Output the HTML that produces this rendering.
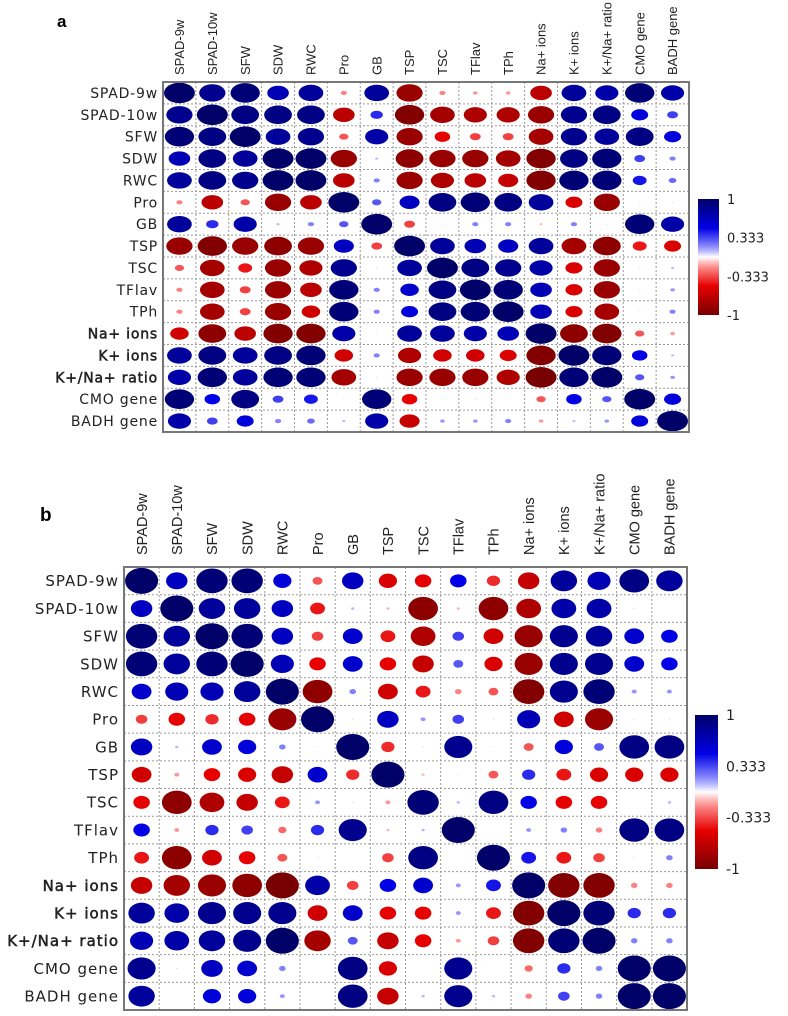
<!DOCTYPE html>
<html><head><meta charset="utf-8"><style>
html,body{margin:0;padding:0;background:#fff;}
svg{display:block;}
</style></head><body>
<svg id="chart" width="788" height="1016" viewBox="0 0 788 1016" xmlns="http://www.w3.org/2000/svg">
<text x="57" y="27" font-family="Liberation Sans, sans-serif" font-weight="bold" font-size="17">a</text>
<text x="40" y="521" font-family="Liberation Sans, sans-serif" font-weight="bold" font-size="19">b</text>
</svg>
<script>
const variables = ["SPAD-9w","SPAD-10w","SFW","SDW","RWC","Pro","GB","TSP","TSC","TFlav","TPh","Na+ ions","K+ ions","K+/Na+ ratio","CMO gene","BADH gene"];
const colorbarTicks = [1, 0.333, -0.333, -1];
const colorbarTickLabels = ["1","0.333","-0.333","-1"];
const matrixA = [
[1,.85,.95,.7,.8,-.2,.8,-.85,-.2,-.15,-.15,-.7,.8,.75,.95,.75],
[.85,1,.9,.9,.9,-.7,.4,-.95,-.8,-.75,-.75,-.85,.85,.9,.55,.35],
[.95,.9,1,.8,.85,-.3,.75,-.85,-.5,-.35,-.35,-.8,.85,.8,.9,.55],
[.7,.9,.8,1,1,-.85,.1,-.9,-.85,-.85,-.8,-.95,.9,.95,.35,.2],
[.8,.9,.85,1,1,-.7,.2,-.85,-.75,-.7,-.65,-.95,.95,.95,.45,.25],
[-.2,-.7,-.3,-.85,-.7,1,.3,.65,.9,.95,.9,.8,-.55,-.85,.05,.05],
[.8,.4,.75,.1,.2,.3,1,-.35,.05,.2,.2,-.1,.2,.05,.95,.75],
[-.85,-.95,-.85,-.9,-.85,.65,-.35,1,.8,.7,.65,.8,-.8,-.9,-.45,-.55],
[-.3,-.8,-.45,-.85,-.75,.85,.05,.8,1,.9,.85,.75,-.55,-.85,.05,.1],
[-.2,-.8,-.35,-.85,-.7,.95,.2,.6,.9,1,.95,.7,-.55,-.85,.05,.15],
[-.2,-.8,-.35,-.85,-.6,.95,.2,.55,.9,.95,1,.7,-.55,-.8,.05,.2],
[-.6,-.9,-.7,-.95,-.95,.75,-.05,.8,.8,.75,.7,1,-.9,-.95,-.3,-.15],
[.8,.9,.8,.9,.95,-.6,.2,-.75,-.6,-.6,-.55,-.95,1,.95,.5,.1],
[.75,.95,.8,.95,.95,-.8,.05,-.85,-.85,-.85,-.75,-1,.95,1,.3,.15],
[.95,.5,.9,.35,.45,.05,.95,-.5,.05,.05,0,-.3,.5,.3,1,.55],
[.75,.35,.55,.2,.25,.1,.75,-.65,.15,.15,.2,-.15,.1,.15,.55,1]
];
const matrixB = [
[1,.65,.95,.95,.55,-.3,.65,-.55,-.5,.5,-.4,-.65,.8,.7,.9,.8],
[.65,1,.8,.8,.65,-.45,.1,-.1,-.9,-.1,-.9,-.75,.75,.75,.05,0],
[.95,.8,1,.95,.65,-.35,.6,-.45,-.75,.35,-.6,-.85,.85,.8,.6,.5],
[.95,.8,.95,1,.7,-.5,.6,-.5,-.65,.3,-.55,-.85,.85,.85,.6,.5],
[.6,.7,.7,.8,1,-.9,.2,-.6,-.45,-.2,-.3,-.95,.85,.95,.15,.15],
[-.35,-.5,-.4,-.5,-.85,1,.05,.65,.15,.35,.05,.7,-.6,-.85,.05,.05],
[.65,.1,.6,.55,.2,.05,1,-.4,.05,.85,.05,-.3,.55,.3,.9,.9],
[-.6,-.15,-.5,-.55,-.65,.6,-.4,1,-.1,-.05,-.3,.4,-.45,-.55,-.55,-.55],
[-.5,-.9,-.75,-.65,-.45,.15,.05,-.15,.95,.1,.9,.5,-.5,-.5,0,.1],
[.5,-.15,.4,.35,-.25,.4,.85,-.1,.1,1,0,.15,.2,-.2,.9,.9],
[-.45,-.9,-.6,-.5,-.3,.05,0,-.35,.9,0,1,.45,-.45,-.35,.05,.2],
[-.65,-.8,-.85,-.9,-1,.75,-.35,.5,.6,.15,.45,1,-.95,-.95,-.2,-.2],
[.8,.75,.85,.85,.85,-.6,.6,-.5,-.5,.15,-.45,-.95,1,.95,.4,.4],
[.7,.75,.8,.85,1,-.8,.3,-.65,-.5,-.15,-.35,-.95,.95,1,.2,.2],
[.85,.05,.65,.6,.2,0,.9,-.55,0,.85,0,-.25,.4,.2,1,1],
[.8,0,.55,.55,.15,0,.9,-.65,.1,.85,.1,-.2,.35,.2,1,1]
];

const NS = "http://www.w3.org/2000/svg";
const svg = document.getElementById('chart');
function mk(tag, attrs, parent){
  const e = document.createElementNS(NS, tag);
  for (const k in attrs) e.setAttribute(k, attrs[k]);
  (parent||svg).appendChild(e);
  return e;
}
function lerp(a,b,t){return Math.round(a+(b-a)*t);}
const stops = [[-1,[120,0,0]],[-0.5,[230,0,0]],[-0.15,[255,150,150]],[0,[255,255,255]],[0.15,[150,150,255]],[0.5,[0,0,230]],[1,[0,0,105]]];
function color(v){
  v=Math.max(-1,Math.min(1,v));
  for(let i=0;i<stops.length-1;i++){
    const [a,ca]=stops[i],[b,cb]=stops[i+1];
    if(v>=a&&v<=b){const t=(v-a)/(b-a);return `rgb(${lerp(ca[0],cb[0],t)},${lerp(ca[1],cb[1],t)},${lerp(ca[2],cb[2],t)})`;}
  }
  return '#fff';
}

function panel(cfg, data, key){
  const n = variables.length;
  const cw = (cfg.x1-cfg.x0)/n, ch = (cfg.y1-cfg.y0)/n;
  const xC = j => cfg.x0 + (j+0.5)*cw;
  const yC = i => cfg.y0 + (i+0.5)*ch;
  const g = mk('g',{});
  
  
  for(let k=1;k<n;k++){
    const lv = mk('line',{x1:cfg.x0+k*cw,x2:cfg.x0+k*cw,y1:cfg.y0,y2:cfg.y1,stroke:'#999','stroke-width':1,'stroke-dasharray':'2,2'},g);
    
    
    const lh = mk('line',{x1:cfg.x0,x2:cfg.x1,y1:cfg.y0+k*ch,y2:cfg.y0+k*ch,stroke:'#999','stroke-width':1,'stroke-dasharray':'2,2'},g);
    
    
  }
  for(let i=0;i<n;i++){
    for(let j=0;j<n;j++){
      const v = data[i][j];
      const a = Math.abs(v);
      if(a<0.01) continue;
      const e = mk('ellipse',{cx:xC(j),cy:yC(i),rx:a*cw*0.47,ry:a*ch*0.47,fill:color(v)},g);
      
      
    }
  }
  const b = mk('rect',{x:cfg.x0,y:cfg.y0,width:cfg.x1-cfg.x0,height:cfg.y1-cfg.y0,fill:'none',stroke:'#777','stroke-width':2},g);
  
  
  for(let i=0;i<n;i++){
    const bold = i>=11 && i<=13;
    const t = mk('text',{x:cfg.x0-5,y:yC(i)+cfg.rowFs*0.36,'text-anchor':'end','font-family':'DejaVu Sans, sans-serif','font-size':cfg.rowFs,'letter-spacing':cfg.rowLs,fill:'#222',stroke:bold?'#222':'none','stroke-width':bold?0.5:0});
    t.textContent = variables[i];
    
    
    const c = mk('text',{transform:`translate(${xC(i)+cfg.colFs*0.36},${cfg.colBase}) rotate(-90)`,'font-family':'Liberation Sans, sans-serif','font-size':cfg.colFs,fill:'#222'});
    c.textContent = variables[i];
    
    
  }
  const gid = 'grad-'+key;
  const defs = mk('defs',{});
  const lg = mk('linearGradient',{id:gid,x1:0,y1:0,x2:0,y2:1},defs);
  for(let k=0;k<=20;k++){
    const v = 1 - k/10;
    mk('stop',{offset:(k/20),'stop-color':color(v)},lg);
  }
  const cb = mk('rect',{x:cfg.cbx,y:cfg.cby0,width:cfg.cbw,height:cfg.cby1-cfg.cby0,fill:`url(#${gid})`});
  
  
  const yCb = v => cfg.cby0 + (1-v)/2*(cfg.cby1-cfg.cby0);
  colorbarTicks.forEach((v,k)=>{
    const t = mk('text',{x:cfg.cbx+cfg.cbw+8,y:yCb(v)+5,'font-family':'DejaVu Sans, sans-serif','font-size':cfg.cbFs,fill:'#222'});
    t.textContent = colorbarTickLabels[k];
    
    
  });
}

panel({x0:163,x1:689,y0:82,y1:432,rowFs:14,rowLs:0.8,colFs:13,colBase:75,cbx:698,cbw:21,cby0:199,cby1:315,cbFs:13}, matrixA, 'a');
panel({x0:124,x1:687,y0:567,y1:1010,rowFs:15,rowLs:1,colFs:14.5,colBase:555,cbx:695,cbw:23,cby0:715,cby1:869,cbFs:14}, matrixB, 'b');
</script>
</body></html>
